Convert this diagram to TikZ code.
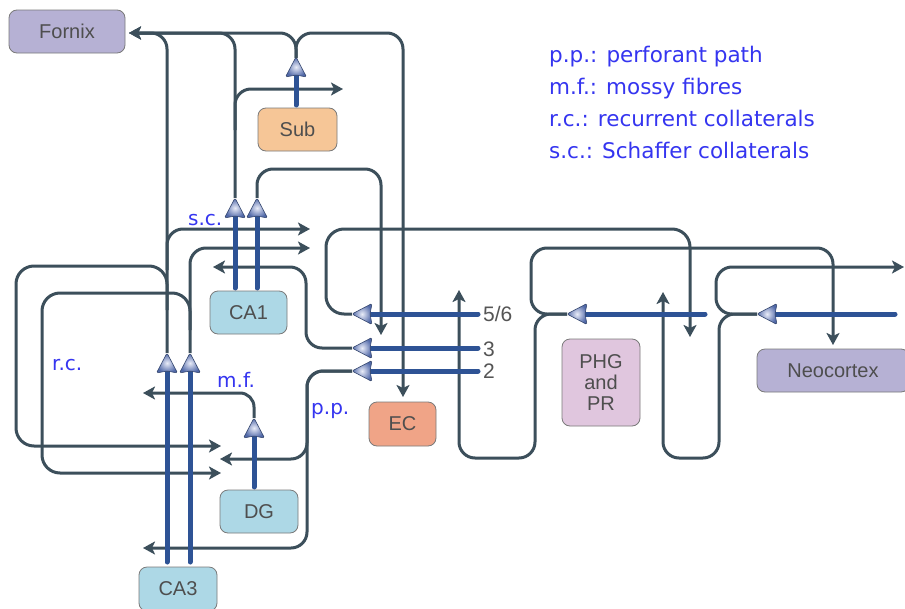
\documentclass[tikz,border=0pt]{standalone}
\usepackage{fontspec}
\setmainfont{Liberation Sans}
\newfontfamily\legfont{DejaVu Sans}
\usetikzlibrary{arrows.meta}
\definecolor{conn}{HTML}{3C4F5B}
\definecolor{fatc}{HTML}{2E5395}
\definecolor{hlight}{HTML}{E9ECF8}
\definecolor{hdark}{HTML}{5068A8}
\definecolor{hborder}{HTML}{34466E}
\definecolor{lav}{HTML}{B6B1D4}
\definecolor{subc}{HTML}{F6C697}
\definecolor{cac}{HTML}{ADD8E6}
\definecolor{ecc}{HTML}{F0A487}
\definecolor{phgc}{HTML}{E0C6DE}
\definecolor{lblue}{HTML}{3535F0}
\definecolor{ntext}{HTML}{4E4E4E}
\definecolor{boxborder}{HTML}{7A7A7A}
\definecolor{numc}{HTML}{555555}
\tikzset{
  bhead/.pic={\shade[inner color=hlight, outer color=hdark, draw=hborder, line width=0.6pt, rounded corners=1.5pt]
     (0,0) -- (-20,10.5) -- (-18,0) -- (-20,-10.5) -- cycle;}
}
\begin{document}
\begin{tikzpicture}[x=1pt,y=-1pt,
  box/.style={draw=boxborder, line width=0.8pt, rounded corners=8pt, text=ntext,
     font=\fontsize{20}{21}\selectfont, inner sep=0pt, align=center},
  wire/.style={draw=conn, line width=3pt, rounded corners=16pt},
  warrow/.style={wire, -{Stealth[length=12pt,width=13pt,inset=3pt]}},
  fat/.style={draw=fatc, line width=5pt, line cap=round},
  lab/.style={text=lblue, font=\legfont\fontsize{20}{22}\selectfont, inner sep=0pt, anchor=base west},
  leg/.style={text=lblue, font=\legfont\fontsize{21.5}{23}\selectfont, inner sep=0pt, anchor=base west},
  num/.style={text=numc, font=\fontsize{21}{22}\selectfont, inner sep=0pt, anchor=base west}
]
\useasboundingbox[fill=white] (0,0) rectangle (905,608);

% ---------- thin connectors ----------
\draw[warrow] (167,353) -- (167,33) -- (129,33);
\draw[warrow] (235,198) -- (235,33) -- (129,33);
\draw[warrow] (296,58) -- (296,33) -- (129,33);
\draw[warrow] (296,58) -- (296,33) -- (403,33) -- (403,397);
\draw[warrow] (235,130) -- (235,89) -- (343,89);
\draw[warrow] (257,198) -- (257,169) -- (381,169) -- (381,335);
\draw[warrow] (167,270) -- (167,229) -- (310,229);
\draw[warrow] (190,353) -- (190,248) -- (310,248);
\draw[warrow, rounded corners=18pt] (167,310) -- (167,266) -- (16,266) -- (16,446) -- (221,446);
\draw[warrow, rounded corners=18pt] (190,330) -- (190,293) -- (42,293) -- (42,473) -- (221,473);
\draw[warrow, rounded corners=14pt] (254,418) -- (254,393) -- (143,393);
\draw[warrow] (352,371) -- (307,371) -- (307,459) -- (220,459);
\draw[warrow] (352,371) -- (307,371) -- (307,548) -- (143,548);
\draw[warrow] (352,348) -- (306,348) -- (306,267) -- (213,267);
\draw[warrow, rounded corners=18pt] (352,314) -- (326,314) -- (326,229) -- (690,229) -- (690,337);
\draw[warrow] (567,314) -- (531,314) -- (531,248) -- (833,248) -- (833,345);
\draw[warrow] (567,314) -- (535,314) -- (535,458) -- (459,458) -- (459,290);
\draw[warrow] (757,314) -- (716,314) -- (716,267) -- (904,267);
\draw[warrow] (757,314) -- (719,314) -- (719,458) -- (663,458) -- (663,292);

% ---------- thick projections ----------
\draw[fat] (167,562) -- (167,370); \pic[rotate=90] at (167,353) {bhead};
\draw[fat] (190,562) -- (190,370); \pic[rotate=90] at (190,353) {bhead};
\draw[fat] (235,288) -- (235,215); \pic[rotate=90] at (235,198) {bhead};
\draw[fat] (257,288) -- (257,215); \pic[rotate=90] at (257,198) {bhead};
\draw[fat] (296,105) -- (296,74);  \pic[rotate=90] at (296,57) {bhead};
\draw[fat] (254,487) -- (254,435); \pic[rotate=90] at (254,418) {bhead};
\draw[fat] (478,314) -- (369,314); \pic[rotate=180] at (352,314) {bhead};
\draw[fat] (478,348) -- (369,348); \pic[rotate=180] at (352,348) {bhead};
\draw[fat] (478,371) -- (369,371); \pic[rotate=180] at (352,371) {bhead};
\draw[fat] (705,314) -- (584,314); \pic[rotate=180] at (567,314) {bhead};
\draw[fat] (895,314) -- (774,314); \pic[rotate=180] at (757,314) {bhead};

% ---------- regions ----------
\node[box, fill=lav, minimum width=116pt, minimum height=43pt] (fornix) at (67,31.5) {Fornix};
\node[box, fill=subc, minimum width=79pt, minimum height=43pt] (sub) at (297.5,129.5) {Sub};
\node[box, fill=cac, minimum width=77pt, minimum height=43pt] (ca1) at (248.5,312.5) {CA1};
\node[box, fill=cac, minimum width=78pt, minimum height=43pt] (dg) at (259,511.5) {DG};
\node[box, fill=cac, minimum width=78pt, minimum height=44pt] (ca3) at (178,589) {CA3};
\node[box, fill=ecc, minimum width=67pt, minimum height=44pt] (ec) at (402.5,424) {EC};
\node[box, fill=phgc, minimum width=78pt, minimum height=87pt] (phg) at (601,382.5) {PHG\\and\\PR};
\node[box, fill=lav, minimum width=152pt, minimum height=43pt] (neo) at (833,370.5) {Neocortex};

% ---------- labels ----------
\node[num] (l56) at (483,321) {5/6};
\node[num] (l3) at (483,356) {3};
\node[num] (l2) at (483,378) {2};
\node[lab] (sc) at (188,225) {s.c.};
\node[lab] (rc) at (52,370) {r.c.};
\node[lab] (mf) at (217,387) {m.f.};
\node[lab] (pp) at (311,414) {p.p.};
\node[leg] (g1) at (549,62) {p.p.: perforant path};
\node[leg] (g2) at (549,94) {m.f.: mossy fibres};
\node[leg] (g3) at (549,126) {r.c.: recurrent collaterals};
\node[leg] (g4) at (549,158) {s.c.: Schaffer collaterals};
\end{tikzpicture}
\end{document}
